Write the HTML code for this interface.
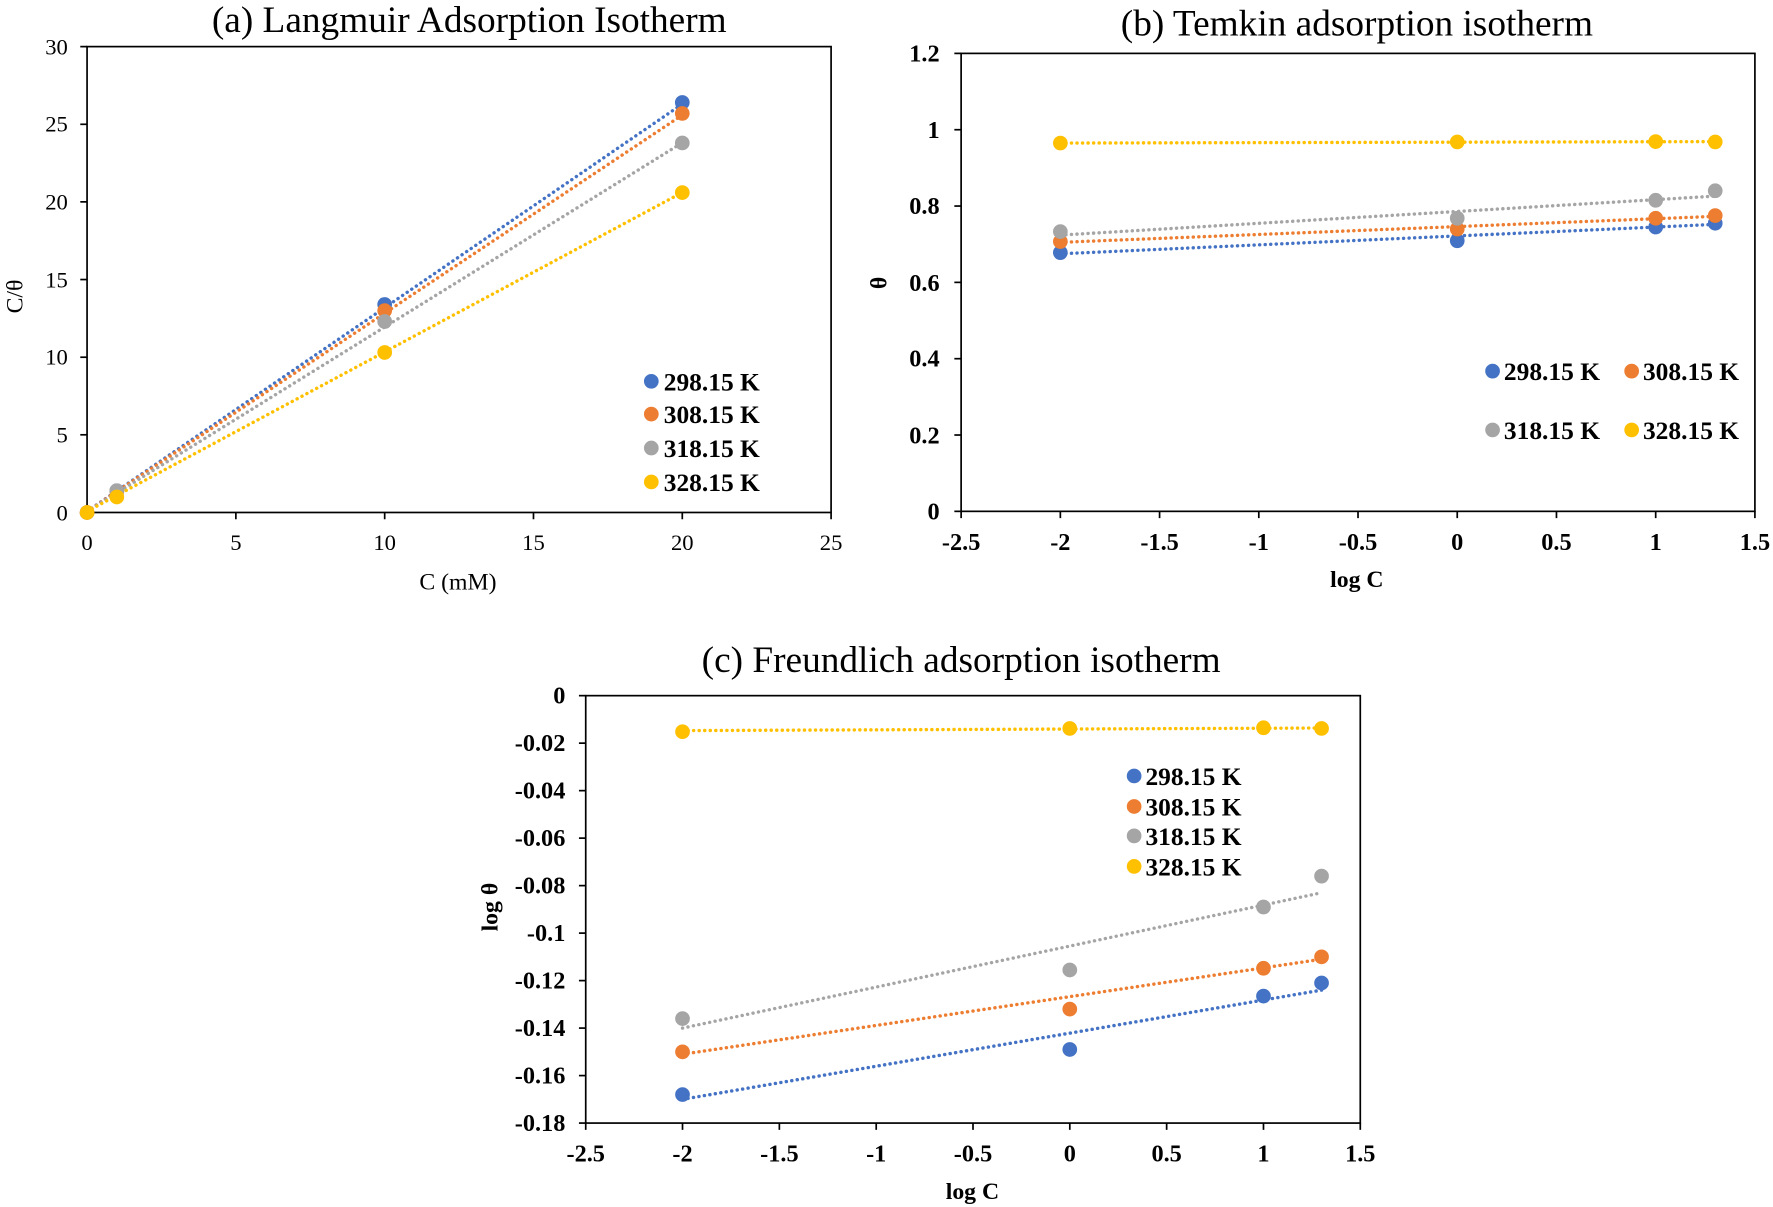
<!DOCTYPE html>
<html><head><meta charset="utf-8"><style>
html,body{margin:0;padding:0;background:#fff}
svg{display:block}
text{font-family:"Liberation Serif",serif;fill:#000}
.b{font-weight:bold}
</style></head><body>
<svg width="1773" height="1207" viewBox="0 0 1568 1067" xmlns="http://www.w3.org/2000/svg">
<rect width="1568" height="1067" fill="#fff"/>
<g stroke-linecap="round" fill="none" stroke-width="3" stroke-dasharray="0.1 4.8">
<line x1="77" y1="452" x2="603.4" y2="91.8" stroke="#4472C4"/>
<line x1="77" y1="452" x2="603.4" y2="101.5" stroke="#ED7D31"/>
<line x1="77" y1="452" x2="603.4" y2="126" stroke="#A5A5A5"/>
<line x1="77" y1="452" x2="603.4" y2="170" stroke="#FFC000"/>
<line x1="937.75" y1="224.2" x2="1516.9" y2="198.2" stroke="#4472C4"/>
<line x1="937.75" y1="214.1" x2="1516.9" y2="191.1" stroke="#ED7D31"/>
<line x1="937.75" y1="207.7" x2="1516.9" y2="173.2" stroke="#A5A5A5"/>
<line x1="937.75" y1="126.3" x2="1516.9" y2="125" stroke="#FFC000"/>
<line x1="603.6" y1="972" x2="1168.75" y2="875.4" stroke="#4472C4"/>
<line x1="603.6" y1="932.1" x2="1168.75" y2="848.1" stroke="#ED7D31"/>
<line x1="603.6" y1="909" x2="1168.75" y2="789.3" stroke="#A5A5A5"/>
<line x1="603.6" y1="645.9" x2="1168.75" y2="643.6" stroke="#FFC000"/>
</g>

<!-- ===== Chart a ===== -->
<text x="415" y="28" font-size="33" text-anchor="middle">(a) Langmuir Adsorption Isotherm</text>
<rect x="77" y="41" width="658" height="412" fill="none" stroke="#000" stroke-width="1.5"/>
<g stroke="#000" stroke-width="1.5">
<line x1="71" y1="453" x2="77" y2="453"/><line x1="71" y1="384.3" x2="77" y2="384.3"/><line x1="71" y1="315.7" x2="77" y2="315.7"/><line x1="71" y1="247" x2="77" y2="247"/><line x1="71" y1="178.3" x2="77" y2="178.3"/><line x1="71" y1="109.7" x2="77" y2="109.7"/><line x1="71" y1="41" x2="77" y2="41"/>
<line x1="77" y1="453" x2="77" y2="459"/><line x1="208.6" y1="453" x2="208.6" y2="459"/><line x1="340.2" y1="453" x2="340.2" y2="459"/><line x1="471.8" y1="453" x2="471.8" y2="459"/><line x1="603.4" y1="453" x2="603.4" y2="459"/><line x1="735" y1="453" x2="735" y2="459"/>
</g>
<g font-size="20" text-anchor="end">
<text x="60" y="460">0</text><text x="60" y="391">5</text><text x="60" y="322">10</text><text x="60" y="254">15</text><text x="60" y="185">20</text><text x="60" y="116">25</text><text x="60" y="48">30</text>
</g>
<g font-size="20" text-anchor="middle">
<text x="77" y="486">0</text><text x="208.6" y="486">5</text><text x="340.2" y="486">10</text><text x="471.8" y="486">15</text><text x="603.4" y="486">20</text><text x="735" y="486">25</text>
</g>
<text x="405" y="521" font-size="21" text-anchor="middle">C (mM)</text>
<text transform="translate(20,262) rotate(-90)" font-size="21" text-anchor="middle">C/θ</text>
<g>
<circle cx="77" cy="453" r="6.5" fill="#4472C4"/><circle cx="103.3" cy="433.8" r="6.5" fill="#4472C4"/><circle cx="340.2" cy="269" r="6.5" fill="#4472C4"/><circle cx="603.4" cy="90.4" r="6.5" fill="#4472C4"/>
<circle cx="77" cy="453" r="6.5" fill="#ED7D31"/><circle cx="103.3" cy="434.5" r="6.5" fill="#ED7D31"/><circle cx="340.2" cy="274.5" r="6.5" fill="#ED7D31"/><circle cx="603.4" cy="100.1" r="6.5" fill="#ED7D31"/>
<circle cx="103.3" cy="433.8" r="6.5" fill="#A5A5A5"/><circle cx="340.2" cy="284.1" r="6.5" fill="#A5A5A5"/><circle cx="603.4" cy="126.2" r="6.5" fill="#A5A5A5"/>
<circle cx="77" cy="453" r="6.5" fill="#FFC000"/><circle cx="103.3" cy="439.3" r="6.5" fill="#FFC000"/><circle cx="340.2" cy="311.5" r="6.5" fill="#FFC000"/><circle cx="603.4" cy="170.1" r="6.5" fill="#FFC000"/>
</g>
<g font-size="22.5">
<circle cx="576" cy="337" r="6.5" fill="#4472C4"/><text x="587" y="345" class="b">298.15 K</text>
<circle cx="576" cy="366" r="6.5" fill="#ED7D31"/><text x="587" y="374" class="b">308.15 K</text>
<circle cx="576" cy="396" r="6.5" fill="#A5A5A5"/><text x="587" y="404" class="b">318.15 K</text>
<circle cx="576" cy="426" r="6.5" fill="#FFC000"/><text x="587" y="434" class="b">328.15 K</text>
</g>

<!-- ===== Chart b ===== -->
<text x="1200" y="31" font-size="33" text-anchor="middle">(b) Temkin adsorption isotherm</text>
<rect x="850" y="47" width="702" height="405" fill="none" stroke="#000" stroke-width="1.5"/>
<g stroke="#000" stroke-width="1.5">
<line x1="844" y1="452" x2="850" y2="452"/><line x1="844" y1="384.5" x2="850" y2="384.5"/><line x1="844" y1="317" x2="850" y2="317"/><line x1="844" y1="249.5" x2="850" y2="249.5"/><line x1="844" y1="182" x2="850" y2="182"/><line x1="844" y1="114.5" x2="850" y2="114.5"/><line x1="844" y1="47" x2="850" y2="47"/>
<line x1="850" y1="452" x2="850" y2="458"/><line x1="937.75" y1="452" x2="937.75" y2="458"/><line x1="1025.5" y1="452" x2="1025.5" y2="458"/><line x1="1113.25" y1="452" x2="1113.25" y2="458"/><line x1="1201" y1="452" x2="1201" y2="458"/><line x1="1288.75" y1="452" x2="1288.75" y2="458"/><line x1="1376.5" y1="452" x2="1376.5" y2="458"/><line x1="1464.25" y1="452" x2="1464.25" y2="458"/><line x1="1552" y1="452" x2="1552" y2="458"/>
</g>
<g font-size="21.5" text-anchor="end">
<text x="831" y="459" class="b">0</text><text x="831" y="392" class="b">0.2</text><text x="831" y="324" class="b">0.4</text><text x="831" y="257" class="b">0.6</text><text x="831" y="189" class="b">0.8</text><text x="831" y="122" class="b">1</text><text x="831" y="54" class="b">1.2</text>
</g>
<g font-size="21.5" text-anchor="middle">
<text x="850" y="486" class="b">-2.5</text><text x="937.75" y="486" class="b">-2</text><text x="1025.5" y="486" class="b">-1.5</text><text x="1113.25" y="486" class="b">-1</text><text x="1201" y="486" class="b">-0.5</text><text x="1288.75" y="486" class="b">0</text><text x="1376.5" y="486" class="b">0.5</text><text x="1464.25" y="486" class="b">1</text><text x="1552" y="486" class="b">1.5</text>
</g>
<text x="1200" y="519" font-size="21" text-anchor="middle" class="b">log C</text>
<text transform="translate(784,250) rotate(-90)" font-size="21" text-anchor="middle" class="b">θ</text>
<g>
<circle cx="937.75" cy="223.2" r="6.5" fill="#4472C4"/><circle cx="1288.75" cy="212.7" r="6.5" fill="#4472C4"/><circle cx="1464.25" cy="200.6" r="6.5" fill="#4472C4"/><circle cx="1516.9" cy="197.2" r="6.5" fill="#4472C4"/>
<circle cx="937.75" cy="213.4" r="6.5" fill="#ED7D31"/><circle cx="1288.75" cy="202.3" r="6.5" fill="#ED7D31"/><circle cx="1464.25" cy="192.8" r="6.5" fill="#ED7D31"/><circle cx="1516.9" cy="190.4" r="6.5" fill="#ED7D31"/>
<circle cx="937.75" cy="204.6" r="6.5" fill="#A5A5A5"/><circle cx="1288.75" cy="192.8" r="6.5" fill="#A5A5A5"/><circle cx="1464.25" cy="176.9" r="6.5" fill="#A5A5A5"/><circle cx="1516.9" cy="168.5" r="6.5" fill="#A5A5A5"/>
<circle cx="937.75" cy="126.3" r="6.5" fill="#FFC000"/><circle cx="1288.75" cy="125.3" r="6.5" fill="#FFC000"/><circle cx="1464.25" cy="125" r="6.5" fill="#FFC000"/><circle cx="1516.9" cy="125.3" r="6.5" fill="#FFC000"/>
</g>
<g font-size="22.5">
<circle cx="1320" cy="328" r="6.5" fill="#4472C4"/><text x="1330" y="336" class="b">298.15 K</text>
<circle cx="1443" cy="328" r="6.5" fill="#ED7D31"/><text x="1453" y="336" class="b">308.15 K</text>
<circle cx="1320" cy="380" r="6.5" fill="#A5A5A5"/><text x="1330" y="388" class="b">318.15 K</text>
<circle cx="1443" cy="380" r="6.5" fill="#FFC000"/><text x="1453" y="388" class="b">328.15 K</text>
</g>

<!-- ===== Chart c ===== -->
<text x="850" y="594" font-size="33" text-anchor="middle">(c) Freundlich adsorption isotherm</text>
<rect x="518" y="615" width="685" height="378" fill="none" stroke="#000" stroke-width="1.5"/>
<g stroke="#000" stroke-width="1.5">
<line x1="512" y1="615" x2="518" y2="615"/><line x1="512" y1="657" x2="518" y2="657"/><line x1="512" y1="699" x2="518" y2="699"/><line x1="512" y1="741" x2="518" y2="741"/><line x1="512" y1="783" x2="518" y2="783"/><line x1="512" y1="825" x2="518" y2="825"/><line x1="512" y1="867" x2="518" y2="867"/><line x1="512" y1="909" x2="518" y2="909"/><line x1="512" y1="951" x2="518" y2="951"/><line x1="512" y1="993" x2="518" y2="993"/>
<line x1="518" y1="993" x2="518" y2="999"/><line x1="603.6" y1="993" x2="603.6" y2="999"/><line x1="689.25" y1="993" x2="689.25" y2="999"/><line x1="774.9" y1="993" x2="774.9" y2="999"/><line x1="860.5" y1="993" x2="860.5" y2="999"/><line x1="946.1" y1="993" x2="946.1" y2="999"/><line x1="1031.75" y1="993" x2="1031.75" y2="999"/><line x1="1117.4" y1="993" x2="1117.4" y2="999"/><line x1="1203" y1="993" x2="1203" y2="999"/>
</g>
<g font-size="21.5" text-anchor="end">
<text x="500" y="622" class="b">0</text><text x="500" y="664" class="b">-0.02</text><text x="500" y="706" class="b">-0.04</text><text x="500" y="748" class="b">-0.06</text><text x="500" y="790" class="b">-0.08</text><text x="500" y="832" class="b">-0.1</text><text x="500" y="874" class="b">-0.12</text><text x="500" y="916" class="b">-0.14</text><text x="500" y="958" class="b">-0.16</text><text x="500" y="1000" class="b">-0.18</text>
</g>
<g font-size="21.5" text-anchor="middle">
<text x="518" y="1027" class="b">-2.5</text><text x="603.6" y="1027" class="b">-2</text><text x="689.25" y="1027" class="b">-1.5</text><text x="774.9" y="1027" class="b">-1</text><text x="860.5" y="1027" class="b">-0.5</text><text x="946.1" y="1027" class="b">0</text><text x="1031.75" y="1027" class="b">0.5</text><text x="1117.4" y="1027" class="b">1</text><text x="1203" y="1027" class="b">1.5</text>
</g>
<text x="860" y="1060" font-size="21" text-anchor="middle" class="b">log C</text>
<text transform="translate(440,802) rotate(-90)" font-size="21" text-anchor="middle" class="b">log θ</text>
<g>
<circle cx="603.6" cy="967.8" r="6.5" fill="#4472C4"/><circle cx="946.1" cy="927.9" r="6.5" fill="#4472C4"/><circle cx="1117.4" cy="880.7" r="6.5" fill="#4472C4"/><circle cx="1168.75" cy="869.1" r="6.5" fill="#4472C4"/>
<circle cx="603.6" cy="930" r="6.5" fill="#ED7D31"/><circle cx="946.1" cy="892.2" r="6.5" fill="#ED7D31"/><circle cx="1117.4" cy="856.1" r="6.5" fill="#ED7D31"/><circle cx="1168.75" cy="846" r="6.5" fill="#ED7D31"/>
<circle cx="603.6" cy="900.6" r="6.5" fill="#A5A5A5"/><circle cx="946.1" cy="857.6" r="6.5" fill="#A5A5A5"/><circle cx="1117.4" cy="801.9" r="6.5" fill="#A5A5A5"/><circle cx="1168.75" cy="774.6" r="6.5" fill="#A5A5A5"/>
<circle cx="603.6" cy="646.9" r="6.5" fill="#FFC000"/><circle cx="946.1" cy="644" r="6.5" fill="#FFC000"/><circle cx="1117.4" cy="643.4" r="6.5" fill="#FFC000"/><circle cx="1168.75" cy="644" r="6.5" fill="#FFC000"/>
</g>
<g font-size="22.5">
<circle cx="1003" cy="686" r="6.5" fill="#4472C4"/><text x="1013" y="694" class="b">298.15 K</text>
<circle cx="1003" cy="713" r="6.5" fill="#ED7D31"/><text x="1013" y="721" class="b">308.15 K</text>
<circle cx="1003" cy="739" r="6.5" fill="#A5A5A5"/><text x="1013" y="747" class="b">318.15 K</text>
<circle cx="1003" cy="766" r="6.5" fill="#FFC000"/><text x="1013" y="774" class="b">328.15 K</text>
</g>
</svg>
</body></html>
